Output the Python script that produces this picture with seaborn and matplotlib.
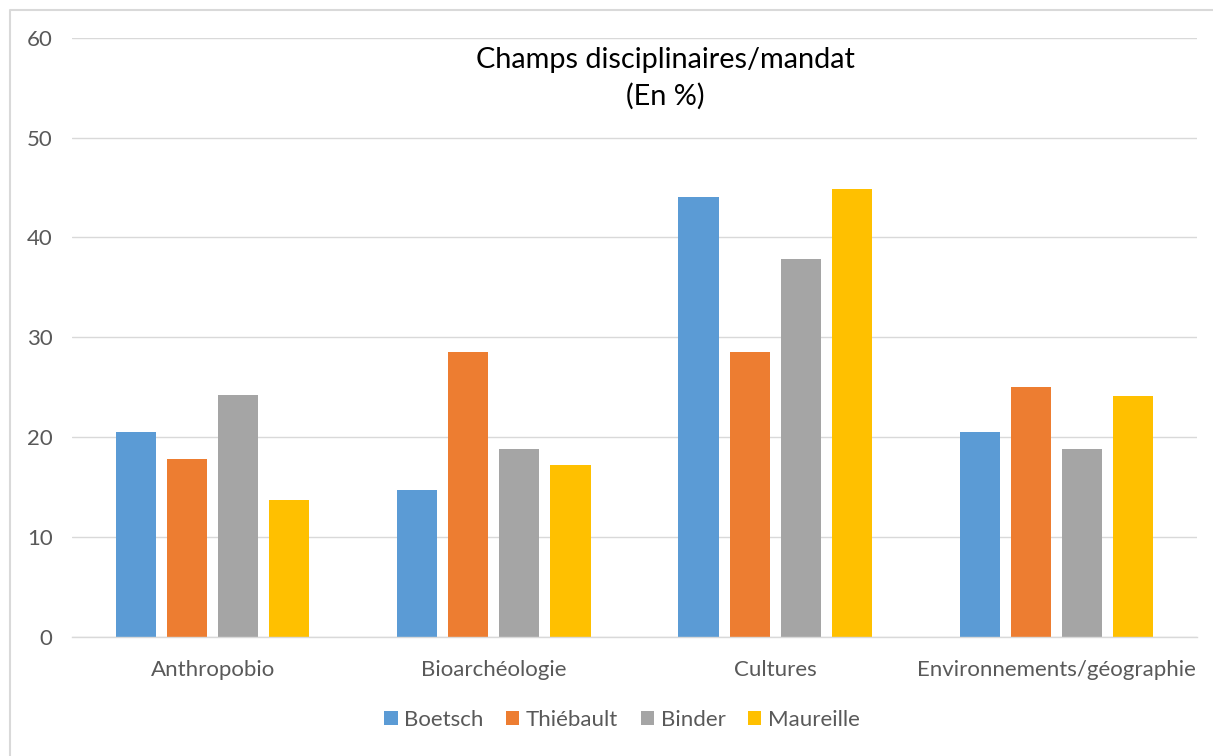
import numpy as np
import pandas as pd
import matplotlib
matplotlib.use("Agg")
import matplotlib.pyplot as plt
from matplotlib.lines import Line2D
import seaborn as sns

categories = ["Anthropobio", "Bioarchéologie", "Cultures", "Environnements/géographie"]
series_names = ["Boetsch", "Thiébault", "Binder", "Maureille"]
boetsch = [20.5, 14.7, 44.0, 20.5]
thiebault = [17.8, 28.5, 28.5, 25.0]
binder = [24.2, 18.8, 37.8, 18.8]
maureille = [13.7, 17.2, 44.8, 24.1]
yticks = [0, 10, 20, 30, 40, 50, 60]
title_text = "Champs disciplinaires/mandat\n(En %)"
colors = ["#5B9BD5", "#ED7D31", "#A5A5A5", "#FFC000"]

rows = []
for name, vals in zip(series_names, [boetsch, thiebault, binder, maureille]):
    for cat, v in zip(categories, vals):
        rows.append({"cat": cat, "serie": name, "val": v})
df = pd.DataFrame(rows)

sns.set_theme(style="white")
plt.rcParams["font.family"] = ["Lato", "DejaVu Sans"]

W, H = 1213, 756
fig = plt.figure(figsize=(W / 100, H / 100), dpi=100)
ax = fig.add_axes([72 / W, 1 - 636.7 / H, (1197 - 72) / W, (636.7 - 37.7) / H])

sns.barplot(data=df, x="cat", y="val", hue="serie", order=categories,
            hue_order=series_names, palette=colors, width=0.727, gap=0.215,
            saturation=1, ax=ax, legend=True, edgecolor="none")

ax.set_ylim(0, 60)
ax.set_xlim(-0.5, len(categories) - 0.5)
ax.set_yticks(yticks)
ax.set_yticklabels([str(t) for t in yticks])
ax.yaxis.grid(True, color="#D9D9D9", linewidth=1.0)
ax.set_axisbelow(True)
for side in ["top", "right", "left"]:
    ax.spines[side].set_visible(False)
ax.spines["bottom"].set_color("#D9D9D9")
ax.spines["bottom"].set_linewidth(1.0)
ax.tick_params(axis="y", length=0, pad=14, labelsize=16, labelcolor="#595959")
ax.tick_params(axis="x", length=0, pad=17, labelsize=16, labelcolor="#595959")
ax.set_xlabel("")
ax.set_ylabel("")

fig.text(665 / W, 1 - 78 / H, title_text, ha="center", va="center",
         fontsize=20.8, color="black", linespacing=1.45)

handles, labels = ax.get_legend_handles_labels()
ax.legend(handles, labels, loc="center", bbox_to_anchor=(622 / W, 1 - 720 / H),
          bbox_transform=fig.transFigure, ncol=4, frameon=False,
          fontsize=16, labelcolor="#595959", handlelength=0.6,
          handleheight=0.6, handletextpad=0.3, columnspacing=1.0)

fig.add_artist(Line2D([9.5 / W, 9.5 / W, 1.0], [0.0, 1 - 9.5 / H, 1 - 9.5 / H],
                      transform=fig.transFigure, color="#D9D9D9", linewidth=1.5))

fig.savefig("out.png", dpi=100, facecolor="white")
